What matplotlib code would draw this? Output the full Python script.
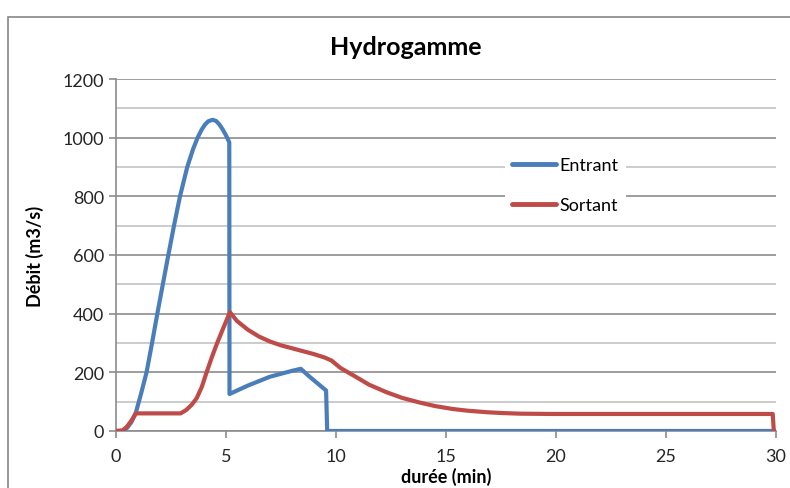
import numpy as np
import matplotlib.pyplot as plt
from matplotlib.patches import Rectangle

plt.rcParams['font.family'] = ['Lato', 'DejaVu Sans']

# Entrant (blue)
t_in = [0, 0.3, 0.5, 0.7, 0.91, 1.15, 1.39, 1.64, 1.88, 2.13, 2.38, 2.65, 2.91,
        3.24, 3.5, 3.71, 3.9, 4.05, 4.2, 4.39, 4.55, 4.7, 4.85, 5.0, 5.15, 5.16,
        6.0, 7.0, 8.0, 8.4, 8.8, 9.2, 9.55, 9.6, 30]
q_in = [0, 0, 10, 30, 64, 130, 200, 300, 400, 500, 600, 705, 800,
        900, 960, 1000, 1028, 1045, 1056, 1061, 1057, 1045, 1028, 1008, 984, 126,
        155, 185, 205, 212, 185, 160, 138, 0, 0]

# Sortant (red)
t_out = [0, 0.3, 0.5, 0.7, 0.91, 2.94, 3.2, 3.45, 3.67, 3.9, 4.12, 4.35, 4.6, 4.9,
         5.18, 5.5, 6.0, 6.5, 7.0, 7.5, 8.0, 8.5, 9.0, 9.5, 9.8, 10.2, 10.8, 11.5,
         12.3, 13.0, 13.8, 14.5, 15.3, 16.0, 16.85, 17.6, 18.4, 19.9, 29.85, 29.9]
q_out = [0, 2, 15, 35, 60, 60, 72, 90, 112, 150, 200, 250, 300, 355,
         405, 375, 345, 322, 305, 292, 282, 272, 262, 250, 240, 215, 189, 158,
         132, 113, 97, 85, 75, 69, 64, 61, 59, 58, 58, 0]

fig = plt.figure(figsize=(7.9, 4.89), dpi=100)
ax = fig.add_axes([0.1468, 0.1166, 0.8355, 0.7198])

# chart frame (cut off on right and bottom)
fig.patches.append(Rectangle((7.5/790, -0.1), 1.2, 1 - 17.5/489 + 0.1,
                             transform=fig.transFigure, fill=False,
                             edgecolor='#868686', linewidth=1.2))

ax.plot(t_in, q_in, color='#4a7ebb', lw=3, label='Entrant', solid_joinstyle='round', zorder=3)
ax.plot(t_out, q_out, color='#be4b48', lw=3, label='Sortant', solid_joinstyle='round', zorder=3)

ax.set_xlim(0, 30)
ax.set_ylim(0, 1200)
ax.set_xticks(np.arange(0, 31, 5))
ax.set_yticks(np.arange(0, 1201, 200))
ax.set_yticks(np.arange(100, 1200, 200), minor=True)
ax.grid(axis='y', which='major', color='#8c8c8c', lw=1.2)
ax.grid(axis='y', which='minor', color='#c4c4c4', lw=1.2)
ax.set_axisbelow(True)

for s in ['top', 'right']:
    ax.spines[s].set_visible(False)
for s in ['left', 'bottom']:
    ax.spines[s].set_color('#8c8c8c')
    ax.spines[s].set_linewidth(1.2)
ax.tick_params(axis='both', which='major', length=5, width=1.2, color='#8c8c8c',
               labelsize=13, labelcolor='#262626')
ax.tick_params(axis='y', which='minor', length=0)
ax.tick_params(axis='x', pad=7)

ax.set_ylabel('Débit (m3/s)', fontsize=13, fontweight='bold')
ax.yaxis.set_label_coords(-0.109, 0.5)
ax.set_xlabel('durée (min)', fontsize=13, fontweight='bold')
ax.xaxis.set_label_coords(0.5, -0.102)
fig.text(0.513, 0.903, 'Hydrogamme', ha='center', va='center',
         fontsize=18, fontweight='bold')

leg = ax.legend(loc='upper left', bbox_to_anchor=(0.576, 0.825), frameon=True,
                fontsize=13, handlelength=2.4, handletextpad=0.2,
                labelspacing=1.35, borderpad=0.4)
leg.get_frame().set_edgecolor('none')
leg.get_frame().set_facecolor('white')
leg.get_frame().set_alpha(1)
for h in leg.get_lines():
    h.set_linewidth(3.5)
    h.set_solid_capstyle('round')

fig.savefig('out.png', dpi=100)
